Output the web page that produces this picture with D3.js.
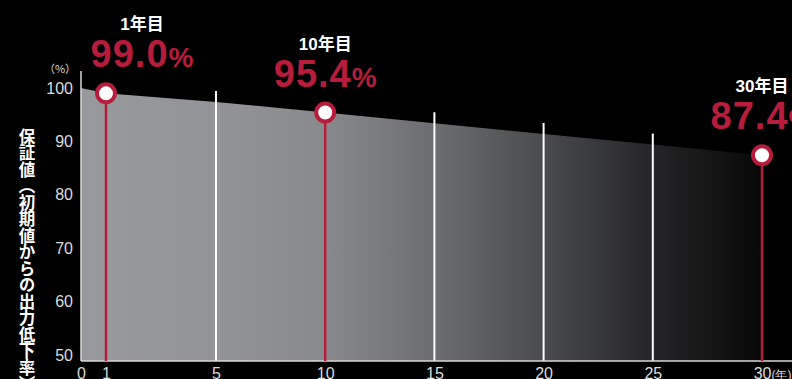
<!DOCTYPE html>
<html>
<head>
<meta charset="utf-8">
<script src="https://cdn.jsdelivr.net/npm/d3@7"></script>
<style>
body { margin: 0; background: #000; overflow: hidden; }
svg { display: block; }
text { font-family: "Liberation Sans", Arial, sans-serif; }
</style>
</head>
<body>
<div id="chart"></div>
<script>
/* guaranteed output curve */
var years = [0, 1, 5, 10, 15, 20, 25, 30];
var values = [100, 99.0, 97.4, 95.4, 93.4, 91.4, 89.4, 87.4];
var gridYears = [5, 15, 20, 25];
var markerYears = [1, 10, 30];
var markerValues = [99.0, 95.4, 87.4];
var markerLabels = ["1年目", "10年目", "30年目"];
var xTicks = [0, 1, 5, 10, 15, 20, 25, 30];
var yTicks = [50, 60, 70, 80, 90, 100];
var yTitle = "保証値（初期値からの出力低下率）";
var unitY = "（%）";
var unitX = "(年)";

var width = 792, height = 379;
var red = "#b71c3b";
var bottom = 361;

var data = years.map(function(d, i) { return {year: d, value: values[i]}; });
var valueAt = function(yr) { return values[years.indexOf(yr)]; };

var svg = d3.select("#chart").append("svg")
            .attr("width", width)
            .attr("height", height)
            .style("background", "#000");

var xScale = d3.scaleLinear()
        .domain([0, 1, 5, 30])
        .range([81, 106, 216, 762]);
var yScale = d3.scaleLinear()
        .domain([50, 100])
        .range([355, 88]);

var defs = svg.append("defs");
var grad = defs.append("linearGradient")
        .attr("id", "areaGrad")
        .attr("gradientUnits", "userSpaceOnUse")
        .attr("x1", xScale(0)).attr("x2", xScale(30))
        .attr("y1", 0).attr("y2", 0);
[[0, "#98999c"], [0.2, "#939497"], [0.36, "#88898c"], [0.52, "#6c6d70"],
 [0.68, "#4a4b4d"], [0.84, "#252527"], [1, "#080808"]].forEach(function(s) {
    grad.append("stop").attr("offset", s[0]).attr("stop-color", s[1]);
});

var area = d3.area()
        .x(function(d) { return xScale(d.year); })
        .y1(function(d) { return yScale(d.value); })
        .y0(bottom)
        .curve(d3.curveLinear);
svg.append("path")
    .datum(data)
    .attr("fill", "url(#areaGrad)")
    .attr("d", area);

// white year lines
svg.append("g").selectAll("line").data(gridYears)
    .enter().append("line")
    .attr("x1", function(d) { return xScale(d); })
    .attr("x2", function(d) { return xScale(d); })
    .attr("y1", bottom)
    .attr("y2", function(d) { return yScale(valueAt(d)) - 11; })
    .attr("stroke", "#fff")
    .attr("stroke-width", 2);

// axes
var yAxis = d3.axisLeft(yScale).tickValues(yTicks).tickSize(0).tickPadding(8);
var gy = svg.append("g").attr("transform", "translate(" + xScale(0) + ",0)").call(yAxis);
gy.select(".domain").remove();
gy.selectAll("text").attr("fill", "#dcdcdc").style("font-size", "16px");

var xAxis = d3.axisBottom(xScale).tickValues(xTicks).tickSize(0).tickPadding(7);
var gx = svg.append("g").attr("transform", "translate(0," + bottom + ")").call(xAxis);
gx.select(".domain").remove();
gx.selectAll("text").attr("fill", "#dcdcdc").style("font-size", "16px");
gx.selectAll("text").filter(function(d) { return d === 30; })
    .attr("text-anchor", "start")
    .attr("dx", "-0.55em")
    .append("tspan")
    .style("font-size", "12px")
    .text(unitX);

svg.append("line")
    .attr("x1", xScale(0)).attr("x2", xScale(0))
    .attr("y1", 71).attr("y2", bottom)
    .attr("stroke", "#d8d8d8").attr("stroke-width", 1.5);
svg.append("line")
    .attr("x1", xScale(0)).attr("x2", width)
    .attr("y1", bottom).attr("y2", bottom)
    .attr("stroke", "#d8d8d8").attr("stroke-width", 1.5);

svg.append("text")
    .attr("x", 60).attr("y", 73)
    .attr("text-anchor", "middle")
    .attr("fill", "#dcdcdc")
    .style("font-family", "'Noto Sans CJK JP', sans-serif")
    .style("font-size", "11px")
    .text(unitY);

svg.append("text")
    .attr("x", 27).attr("y", 128)
    .attr("writing-mode", "vertical-rl")
    .style("writing-mode", "vertical-rl")
    .attr("fill", "#fff")
    .style("font-family", "'Noto Sans CJK JP', sans-serif")
    .style("font-weight", "bold")
    .style("font-size", "16.5px")
    .text(yTitle);

// markers
var marks = markerYears.map(function(d, i) {
    return {year: d, value: markerValues[i], label: markerLabels[i]};
});
var mg = svg.append("g");
mg.selectAll("line").data(marks)
    .enter().append("line")
    .attr("x1", function(d) { return xScale(d.year); })
    .attr("x2", function(d) { return xScale(d.year); })
    .attr("y1", function(d) { return yScale(d.value); })
    .attr("y2", bottom)
    .attr("stroke", red)
    .attr("stroke-width", 2.5);
mg.selectAll("circle").data(marks)
    .enter().append("circle")
    .attr("cx", function(d) { return xScale(d.year); })
    .attr("cy", function(d) { return yScale(d.value); })
    .attr("r", 9)
    .attr("fill", "#fff")
    .attr("stroke", red)
    .attr("stroke-width", 4);

var labelX = function(d) { return Math.max(xScale(d.year), xScale(0) + 61); };
mg.selectAll("text.year").data(marks)
    .enter().append("text")
    .attr("class", "year")
    .attr("x", labelX)
    .attr("y", function(d) { return yScale(d.value) - 63; })
    .attr("text-anchor", "middle")
    .attr("fill", "#fff")
    .style("font-family", "'Liberation Sans', 'Noto Sans CJK JP', sans-serif")
    .style("font-weight", "bold")
    .style("font-size", "17px")
    .text(function(d) { return d.label; });
var big = mg.selectAll("text.val").data(marks)
    .enter().append("text")
    .attr("class", "val")
    .attr("x", labelX)
    .attr("y", function(d) { return yScale(d.value) - 26; })
    .attr("text-anchor", "middle")
    .attr("fill", red)
    .style("font-weight", "bold");
big.append("tspan")
    .style("font-size", "38px")
    .style("letter-spacing", "1px")
    .text(function(d) { return d.value.toFixed(1); });
big.append("tspan")
    .style("font-size", "28px")
    .text("%");
</script>
</body>
</html>
